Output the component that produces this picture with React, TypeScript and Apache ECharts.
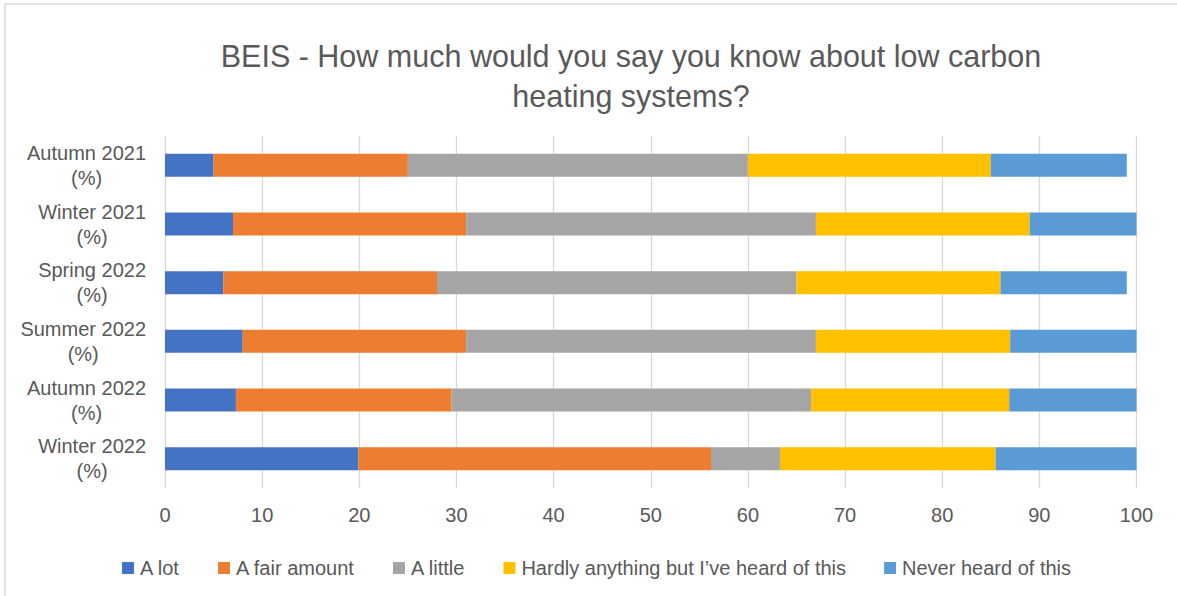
import React, { useEffect, useRef } from "react";
import * as echarts from "echarts";

const categories = [
  "Autumn 2021",
  "Winter 2021",
  "Spring 2022",
  "Summer 2022",
  "Autumn 2022",
  "Winter 2022",
];

const seriesNames = [
  "A lot",
  "A fair amount",
  "A little",
  "Hardly anything but I\u2019ve heard of this",
  "Never heard of this",
];

const aLot = [5, 7, 6, 8, 7.3, 19.9];
const aFairAmount = [20, 24, 22, 23, 22.2, 36.3];
const aLittle = [35, 36, 37, 36, 37, 7.1];
const hardlyAnything = [25, 22, 21, 20, 20.4, 22.2];
const neverHeard = [14, 11, 13, 13, 13.1, 14.5];

const seriesValues = [aLot, aFairAmount, aLittle, hardlyAnything, neverHeard];
const seriesColors = ["#4472C4", "#ED7D31", "#A5A5A5", "#FFC000", "#5B9BD5"];

const xTicks = [0, 10, 20, 30, 40, 50, 60, 70, 80, 90, 100];

const FONT = "'Liberation Sans', Arial, sans-serif";
const TEXT = "#595959";

export default function App() {
  const ref = useRef<HTMLDivElement>(null);

  useEffect(() => {
    if (!ref.current) return;
    const chart = echarts.init(ref.current, null, { renderer: "svg" });
    chart.setOption({
      animation: false,
      backgroundColor: "#ffffff",
      textStyle: { fontFamily: FONT },
      graphic: [
        {
          type: "rect",
          shape: { x: 5, y: 4, width: 1200, height: 620 },
          style: { fill: "none", stroke: "#D9D9D9", lineWidth: 1.5 },
          silent: true,
        },
      ],
      title: {
        text: "BEIS - How much would you say you know about low carbon\nheating systems?",
        left: 626,
        textAlign: "center",
        top: 31,
        textStyle: {
          fontFamily: FONT,
          fontSize: 30.5,
          fontWeight: "normal",
          color: TEXT,
          lineHeight: 40,
        },
      },
      legend: {
        data: seriesNames,
        left: 117,
        top: 553,
        itemWidth: 12,
        itemHeight: 12,
        itemGap: 38,
        icon: "rect",
        textStyle: { fontFamily: FONT, fontSize: 20, color: TEXT, padding: [0, 0, 0, 1] },
      },
      grid: { left: 165, right: 40.5, top: 136, bottom: 108, containLabel: false },
      xAxis: {
        type: "value",
        min: xTicks[0],
        max: xTicks[xTicks.length - 1],
        interval: xTicks[1] - xTicks[0],
        axisLine: { show: false },
        axisTick: { show: false },
        splitLine: { show: true, lineStyle: { color: "#D9D9D9", width: 1.3 } },
        axisLabel: {
          color: TEXT,
          fontSize: 20,
          fontFamily: FONT,
          margin: 17,
        },
      },
      yAxis: {
        type: "category",
        data: categories,
        inverse: true,
        axisLine: { show: false },
        axisTick: { show: false },
        splitLine: { show: false },
        axisLabel: {
          margin: 19,
          align: "right",
          formatter: (v: string) => `{a|${v}}\n{a|(%)}`,
          rich: {
            a: {
              align: "center",
              color: TEXT,
              fontSize: 20,
              fontFamily: FONT,
              lineHeight: 25,
            },
          },
        },
      },
      series: seriesNames.map((name, i) => ({
        name,
        type: "bar",
        stack: "total",
        barWidth: 23,
        data: seriesValues[i],
        itemStyle: { color: seriesColors[i] },
      })),
    });
    return () => chart.dispose();
  }, []);

  return (
    <div
      ref={ref}
      style={{ position: "fixed", left: 0, top: 0, width: 1177, height: 596 }}
    />
  );
}
